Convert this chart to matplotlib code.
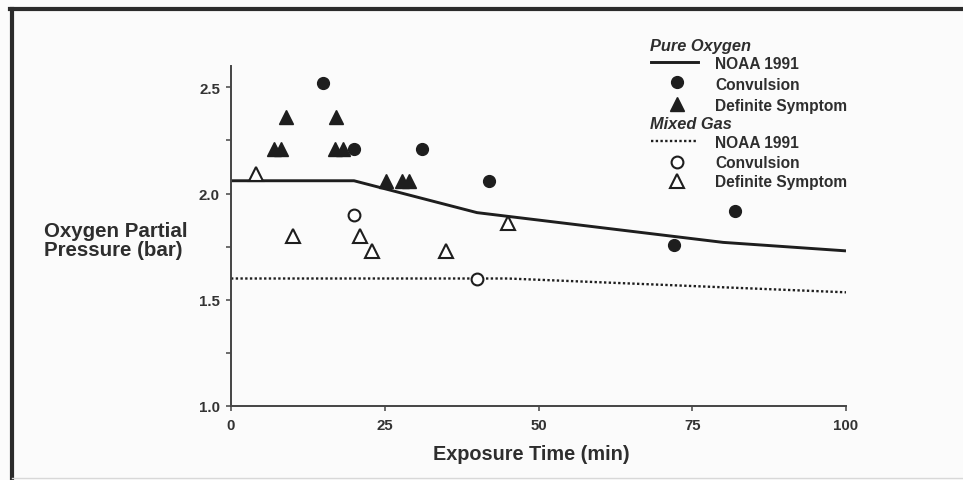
import matplotlib
matplotlib.use("Agg")
import matplotlib.pyplot as plt
from matplotlib.lines import Line2D

# NOAA 1991 exposure limits (time in min, oxygen partial pressure in bar)
pure_limit_time = [0, 20, 40, 80, 100]
pure_limit_po2 = [2.06, 2.06, 1.91, 1.77, 1.73]
mixed_limit_time = [0, 45, 100]
mixed_limit_po2 = [1.60, 1.60, 1.535]

# Pure oxygen exposures
pure_conv_time = [15, 20, 31, 42, 72, 82]
pure_conv_po2 = [2.52, 2.21, 2.21, 2.06, 1.76, 1.92]
pure_symp_time = [7.0, 8.2, 9.0, 17.0, 16.9, 18.2, 25.2, 27.8, 29.0]
pure_symp_po2 = [2.21, 2.21, 2.36, 2.36, 2.21, 2.21, 2.06, 2.06, 2.06]

# Mixed gas exposures
mixed_conv_time = [20, 40]
mixed_conv_po2 = [1.90, 1.60]
mixed_symp_time = [4, 10, 21, 23, 35, 45]
mixed_symp_po2 = [2.09, 1.80, 1.80, 1.73, 1.73, 1.86]

x_ticks = [0, 25, 50, 75, 100]
y_ticks = [1.0, 1.5, 2.0, 2.5]
y_minor = [1.25, 1.75, 2.25]

W, H = 963, 481
FONT = "Liberation Sans"
INK = "#1e1e1e"
TXT = "#2e2e2e"

fig = plt.figure(figsize=(W / 100, H / 100), dpi=100, facecolor="#fbfbfb")


def fx(px):
    return px / W


def fy(py):
    return 1 - py / H


ax = fig.add_axes([fx(231), fy(407), fx(846) - fx(231), fy(67) - fy(407)])
ax.set_facecolor("none")
ax.set_xlim(0, 100)
ax.set_ylim(1.0, 2.6)

# Limit curves
ax.plot(pure_limit_time, pure_limit_po2, color=INK, lw=2.1, solid_capstyle="butt")
ax.plot(mixed_limit_time, mixed_limit_po2, color=INK, lw=1.7, linestyle=(0, (1, 1.0)))

# Exposure outcomes
ms_c, ms_t = 8.5, 9.5
ax.plot(pure_conv_time, pure_conv_po2, "o", ms=ms_c, color=INK, mec=INK)
ax.plot(pure_symp_time, pure_symp_po2, "^", ms=ms_t, color=INK, mec=INK)
ax.plot(mixed_conv_time, mixed_conv_po2, "o", ms=ms_c, mfc="white", mec=INK, mew=1.5)
ax.plot(mixed_symp_time, mixed_symp_po2, "^", ms=ms_t, mfc="white", mec=INK, mew=1.5)

for s in ("top", "right"):
    ax.spines[s].set_visible(False)
for s in ("left", "bottom"):
    ax.spines[s].set_color("#454545")
    ax.spines[s].set_linewidth(1.4)

ax.set_xticks(x_ticks)
ax.set_xticklabels([str(t) for t in x_ticks])
ax.set_yticks(y_ticks)
ax.set_yticklabels([f"{v:.1f}" for v in y_ticks])
ax.set_yticks(y_minor, minor=True)
ax.tick_params(axis="both", which="both", direction="out", length=3.5, width=1.1,
               color="#454545", labelsize=10.8, labelcolor="#333333")
ax.tick_params(axis="x", pad=5.5)
ax.tick_params(axis="y", pad=4.5)
for lab in ax.get_xticklabels() + ax.get_yticklabels():
    lab.set_fontfamily(FONT)
    lab.set_fontweight("bold")

# Axis titles
fig.text(fx(44), fy(241), "Oxygen Partial\nPressure (bar)", ha="left", va="center",
         fontsize=14.8, fontweight="bold", family=FONT, color=TXT, linespacing=1.0)
fig.text(fx(531), fy(455), "Exposure Time (min)", ha="center", va="center",
         fontsize=14.3, fontweight="bold", family=FONT, color=TXT)

# Key
hx0, hx1, mx, tx = 651, 698, 677, 715
fig.text(fx(650), fy(46), "Pure Oxygen", ha="left", va="center", fontsize=11.8,
         fontweight="bold", fontstyle="italic", family=FONT, color=TXT)
fig.text(fx(650), fy(125), "Mixed Gas", ha="left", va="center", fontsize=11.8,
         fontweight="bold", fontstyle="italic", family=FONT, color=TXT)

fig.add_artist(Line2D([fx(hx0), fx(hx1)], [fy(63), fy(63)], color=INK, lw=2.1,
                      transform=fig.transFigure))
fig.add_artist(Line2D([fx(hx0), fx(hx1)], [fy(142), fy(142)], color=INK, lw=1.7,
                      linestyle=(0, (1, 1.0)), transform=fig.transFigure))
fig.add_artist(Line2D([fx(mx)], [fy(83)], marker="o", ms=ms_c, color=INK,
                      transform=fig.transFigure))
fig.add_artist(Line2D([fx(mx)], [fy(105)], marker="^", ms=ms_t, color=INK,
                      transform=fig.transFigure))
fig.add_artist(Line2D([fx(mx)], [fy(163)], marker="o", ms=ms_c, mfc="white", mec=INK,
                      mew=1.5, transform=fig.transFigure))
fig.add_artist(Line2D([fx(mx)], [fy(182)], marker="^", ms=ms_t, mfc="white", mec=INK,
                      mew=1.5, transform=fig.transFigure))

for y, label in [(65, "NOAA 1991"), (86, "Convulsion"), (106, "Definite Symptom"),
                 (144, "NOAA 1991"), (164, "Convulsion"), (183, "Definite Symptom")]:
    fig.text(fx(tx), fy(y), label, ha="left", va="center", fontsize=11.2,
             fontweight="bold", family=FONT, color=TXT)

# Panel frame
fig.add_artist(Line2D([fx(10), 1.0], [fy(10), fy(10)], color="#2b2b2b", lw=3,
                      transform=fig.transFigure))
fig.add_artist(Line2D([fx(12), fx(12)], [0.0, fy(10)], color="#2b2b2b", lw=3,
                      transform=fig.transFigure))
fig.add_artist(Line2D([fx(12), 1.0], [fy(479), fy(479)], color="#d8d8d8", lw=1,
                      transform=fig.transFigure))

fig.savefig("out.png", dpi=100, facecolor=fig.get_facecolor())
